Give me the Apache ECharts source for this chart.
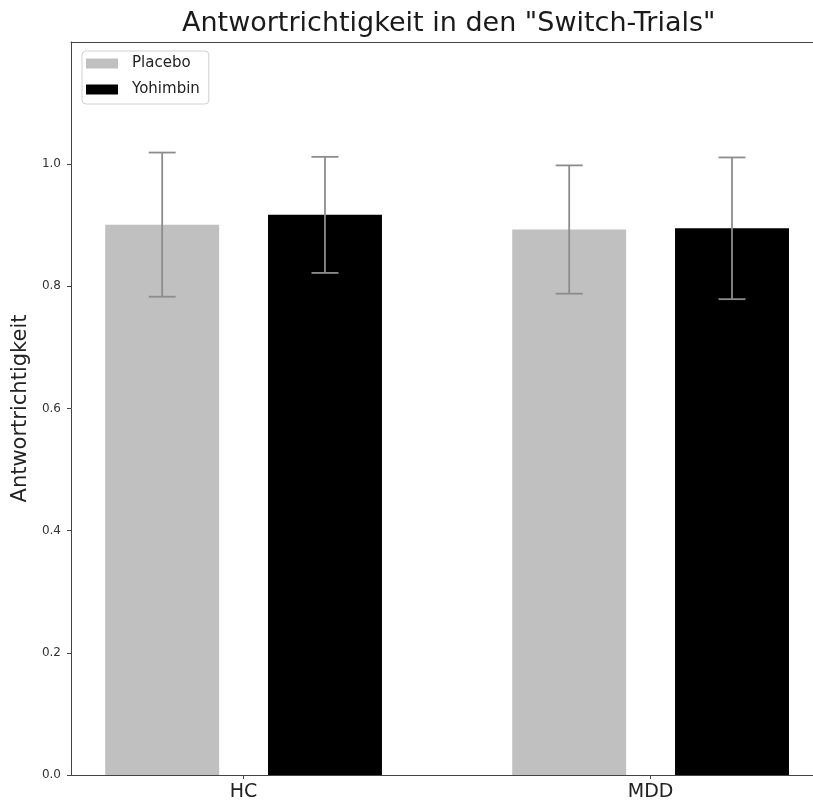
<!DOCTYPE html>
<html>
<head>
<meta charset="utf-8">
<script src="https://cdn.jsdelivr.net/npm/echarts@6/dist/echarts.min.js"></script>
<style>html,body{margin:0;padding:0;background:#fff}#c{width:813px;height:805px}</style>
</head>
<body>
<div id="c"></div>
<script>
const categories = ['HC', 'MDD'];
const placebo = [0.901, 0.893];
const yohimbin = [0.917, 0.895];
const placeboErr = [0.118, 0.105];
const yohimbinErr = [0.095, 0.116];
const yTicks = [0, 0.2, 0.4, 0.6, 0.8, 1.0];

const OFFSET = 0.2, BAR_W = 0.28, CAP = 13.5;
const FONT = 'DejaVu Sans';

function barRender(offset) {
  return function (params, api) {
    const x = api.value(0) + offset;
    const p0 = api.coord([x - BAR_W / 2, api.value(1)]);
    const p1 = api.coord([x + BAR_W / 2, 0]);
    return {
      type: 'rect',
      shape: { x: p0[0], y: p0[1], width: p1[0] - p0[0], height: p1[1] - p0[1] },
      style: { fill: api.visual('color') }
    };
  };
}
function errRender(offset) {
  return function (params, api) {
    const x = api.value(0) + offset;
    const v = api.value(1), e = api.value(2);
    const top = api.coord([x, v + e]);
    const bot = api.coord([x, v - e]);
    const st = { stroke: '#8c8c8c', lineWidth: 1.8 };
    return {
      type: 'group',
      children: [
        { type: 'line', shape: { x1: top[0], y1: top[1], x2: bot[0], y2: bot[1] }, style: st },
        { type: 'line', shape: { x1: top[0] - CAP, y1: top[1], x2: top[0] + CAP, y2: top[1] }, style: st },
        { type: 'line', shape: { x1: bot[0] - CAP, y1: bot[1], x2: bot[0] + CAP, y2: bot[1] }, style: st }
      ]
    };
  };
}

const chart = echarts.init(document.getElementById('c'), null, { renderer: 'canvas' });
chart.setOption({
  animation: false,
  backgroundColor: '#ffffff',
  title: {
    text: 'Antwortrichtigkeit in den "Switch-Trials"',
    left: 182, top: 10, padding: 0,
    textStyle: { fontFamily: FONT, fontSize: 27, fontWeight: 'normal', color: '#1a1a1a' }
  },
  legend: {
    orient: 'vertical',
    left: 82, top: 51,
    padding: [5, 9, 7, 4],
    itemWidth: 32, itemHeight: 10, itemGap: 11,
    borderColor: '#d0d0d0', borderWidth: 1, borderRadius: 4,
    backgroundColor: '#ffffff',
    textStyle: { fontFamily: FONT, fontSize: 15, color: '#222', padding: [0, 0, 0, 9] },
    data: [{ name: 'Placebo', icon: 'rect' }, { name: 'Yohimbin', icon: 'rect' }]
  },
  grid: { left: 71, top: 42, bottom: 30, right: 0 },
  xAxis: [
    {
      type: 'value', min: -0.424, max: 1.399,
      splitLine: { show: false },
      axisLine: { show: true, onZero: false, lineStyle: { color: '#444', width: 1 } },
      axisTick: { show: true, length: 4, lineStyle: { color: '#444' }, customValues: [0, 1] },
      axisLabel: {
        customValues: [0, 1], margin: 8,
        formatter: v => categories[Math.round(v)],
        fontFamily: FONT, fontSize: 19, color: '#222'
      }
    },
    {
      type: 'value', position: 'top', min: -0.424, max: 1.399,
      splitLine: { show: false },
      axisLine: { show: true, onZero: false, lineStyle: { color: '#444', width: 1 } },
      axisTick: { show: false }, axisLabel: { show: false }
    }
  ],
  yAxis: {
    type: 'value', min: 0, max: 1.2,
    name: 'Antwortrichtigkeit', nameLocation: 'middle', nameGap: 40,
    nameTextStyle: { fontFamily: FONT, fontSize: 21, color: '#222' },
    splitLine: { show: false },
    axisLine: { show: true, onZero: false, lineStyle: { color: '#444', width: 1 } },
    axisTick: { show: true, length: 4, lineStyle: { color: '#444' }, customValues: yTicks },
    axisLabel: {
      customValues: yTicks, margin: 10,
      formatter: v => v.toFixed(1),
      fontFamily: FONT, fontSize: 12, color: '#333'
    }
  },
  series: [
    {
      name: 'Placebo', type: 'custom', itemStyle: { color: '#c0c0c0' },
      renderItem: barRender(-OFFSET), z: 2,
      data: categories.map((c, i) => [i, placebo[i]])
    },
    {
      name: 'Yohimbin', type: 'custom', itemStyle: { color: '#000000' },
      renderItem: barRender(OFFSET), z: 2,
      data: categories.map((c, i) => [i, yohimbin[i]])
    },
    {
      name: 'Placebo SD', type: 'custom', renderItem: errRender(-OFFSET), z: 5,
      data: categories.map((c, i) => [i, placebo[i], placeboErr[i]])
    },
    {
      name: 'Yohimbin SD', type: 'custom', renderItem: errRender(OFFSET), z: 5,
      data: categories.map((c, i) => [i, yohimbin[i], yohimbinErr[i]])
    }
  ]
});
</script>
</body>
</html>
